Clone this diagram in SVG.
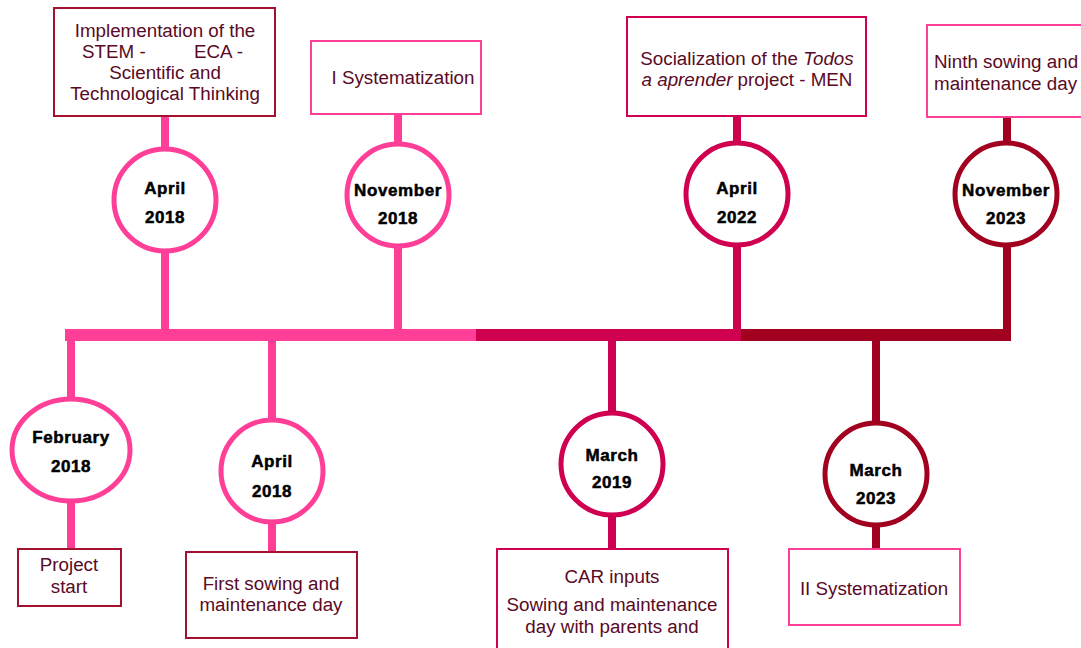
<svg xmlns="http://www.w3.org/2000/svg" width="1081" height="648" viewBox="0 0 1081 648">
<style>
.box{fill:#fff;stroke-width:2}
.ring{fill:#fff;stroke-width:5}
.pk{stroke:#FF3E98}
.cr{stroke:#CF004F}
.dr{stroke:#A1001F}
.bt{font-family:"Liberation Sans",Arial,sans-serif;font-size:18.8px;fill:#5a0a25;text-anchor:middle}
.st{text-anchor:start}
.dt{font-family:"Liberation Sans",Arial,sans-serif;font-size:17px;font-weight:bold;fill:#000;stroke:#000;stroke-width:0.5;text-anchor:middle;letter-spacing:0.6px}
.ln{fill:none;stroke-width:8}
</style>
<rect width="1081" height="648" fill="#fff"/>
<g id="connectors">
  <rect x="65" y="329" width="411" height="12" fill="#FF3E98"/>
  <rect x="476" y="329" width="265" height="12" fill="#CF004F"/>
  <rect x="741" y="329" width="270" height="12" fill="#A1001F"/>
  <line class="ln pk" x1="165" y1="116" x2="165" y2="330"/>
  <line class="ln pk" x1="398" y1="114" x2="398" y2="330"/>
  <line class="ln cr" x1="737" y1="116" x2="737" y2="330"/>
  <line class="ln dr" x1="1007" y1="117" x2="1007" y2="341"/>
  <line class="ln pk" x1="71" y1="335" x2="71" y2="549"/>
  <line class="ln pk" x1="272" y1="340" x2="272" y2="552"/>
  <line class="ln cr" x1="612" y1="340" x2="612" y2="549"/>
  <line class="ln dr" x1="876" y1="340" x2="876" y2="549"/>
</g>
<g id="ev-apr2018-top">
  <rect class="box" x="54" y="8" width="221" height="108" stroke="#A3112E"/>
  <text class="bt" x="165" y="37">Implementation of the</text>
  <text class="bt st" y="58"><tspan x="82">STEM -</tspan><tspan x="194">ECA -</tspan></text>
  <text class="bt" x="165" y="79">Scientific and</text>
  <text class="bt" x="165" y="100">Technological Thinking</text>
  <circle class="ring pk" cx="165" cy="200" r="51"/>
  <text class="dt" x="165" y="194">April</text>
  <text class="dt" x="165" y="223">2018</text>
</g>
<g id="ev-nov2018">
  <rect class="box" x="311" y="41" width="170" height="73" stroke="#FF3E98"/>
  <text class="bt" x="403" y="84">I Systematization</text>
  <circle class="ring pk" cx="398" cy="195" r="51"/>
  <text class="dt" x="398" y="196">November</text>
  <text class="dt" x="398" y="224">2018</text>
</g>
<g id="ev-apr2022">
  <rect class="box" x="627" y="17" width="239" height="99" stroke="#CF004F"/>
  <text class="bt" x="747" y="65">Socialization of the <tspan font-style="italic">Todos</tspan></text>
  <text class="bt" x="747" y="86"><tspan font-style="italic">a aprender</tspan> project - MEN</text>
  <circle class="ring cr" cx="737" cy="194" r="51"/>
  <text class="dt" x="737" y="194">April</text>
  <text class="dt" x="737" y="223">2022</text>
</g>
<g id="ev-nov2023">
  <rect class="box" x="927" y="25" width="160" height="92" stroke="#FF3E98"/>
  <text class="bt st" x="934" y="68">Ninth sowing and</text>
  <text class="bt st" x="934" y="90">maintenance day</text>
  <circle class="ring dr" cx="1006" cy="194" r="51"/>
  <text class="dt" x="1006" y="196">November</text>
  <text class="dt" x="1006" y="224">2023</text>
</g>
<g id="ev-feb2018">
  <ellipse class="ring pk" cx="71" cy="450" rx="59" ry="51"/>
  <text class="dt" x="71" y="443">February</text>
  <text class="dt" x="71" y="472">2018</text>
  <rect class="box" x="18" y="549" width="103" height="57" stroke="#A3112E"/>
  <text class="bt" x="69" y="571">Project</text>
  <text class="bt" x="69" y="593">start</text>
</g>
<g id="ev-apr2018-bottom">
  <circle class="ring pk" cx="272" cy="471" r="51"/>
  <text class="dt" x="272" y="467">April</text>
  <text class="dt" x="272" y="497">2018</text>
  <rect class="box" x="186" y="552" width="171" height="86" stroke="#A3112E"/>
  <text class="bt" x="271" y="590">First sowing and</text>
  <text class="bt" x="271" y="611">maintenance day</text>
</g>
<g id="ev-mar2019">
  <circle class="ring cr" cx="612" cy="464" r="51"/>
  <text class="dt" x="612" y="461">March</text>
  <text class="dt" x="612" y="488">2019</text>
  <rect class="box" x="497" y="549" width="231" height="110" stroke="#CF004F"/>
  <text class="bt" x="612" y="583">CAR inputs</text>
  <text class="bt" x="612" y="611">Sowing and maintenance</text>
  <text class="bt" x="612" y="633">day with parents and</text>
</g>
<g id="ev-mar2023">
  <circle class="ring dr" cx="876" cy="474" r="51"/>
  <text class="dt" x="876" y="476">March</text>
  <text class="dt" x="876" y="504">2023</text>
  <rect class="box" x="789" y="549" width="171" height="76" stroke="#FF3E98"/>
  <text class="bt" x="874" y="595">II Systematization</text>
</g>
</svg>
